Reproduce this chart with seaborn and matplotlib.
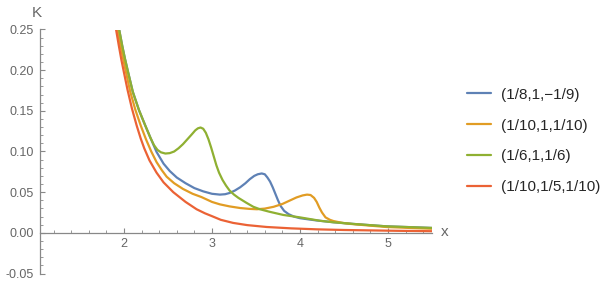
import numpy as np
import pandas as pd
import seaborn as sns
import matplotlib.pyplot as plt
from matplotlib.ticker import MultipleLocator, FormatStrFormatter

# curve values
labels = ["(1/8,1,\u22121/9)", "(1/10,1,1/10)", "(1/6,1,1/6)", "(1/10,1/5,1/10)"]
colors = ["#5E81B5", "#E19C24", "#8FB032", "#EB6235"]

blue_x = [1.945, 1.98, 2.01, 2.05, 2.10, 2.17, 2.24, 2.30, 2.37, 2.45, 2.52, 2.60,
          2.70, 2.80, 2.90, 3.00, 3.09, 3.15, 3.20, 3.26, 3.32, 3.38, 3.43, 3.48,
          3.52, 3.565, 3.60, 3.63, 3.66, 3.69, 3.72, 3.75, 3.78, 3.82, 3.87, 3.93,
          4.00, 4.10, 4.19, 4.38, 4.60, 4.98, 5.25, 5.50]
blue_y = [0.250, 0.230, 0.2145, 0.196, 0.1734, 0.151, 0.1324, 0.117, 0.0995, 0.085, 0.076, 0.068,
          0.061, 0.055, 0.051, 0.048, 0.047, 0.0475, 0.049, 0.052, 0.056, 0.061, 0.066, 0.070,
          0.072, 0.073, 0.072, 0.068, 0.063, 0.056, 0.048, 0.040, 0.033, 0.027, 0.023, 0.020,
          0.018, 0.0165, 0.0152, 0.013, 0.011, 0.008, 0.007, 0.006]

orange_x = [1.925, 1.96, 2.00, 2.04, 2.07, 2.13, 2.19, 2.25, 2.31, 2.37, 2.43, 2.485,
            2.57, 2.67, 2.78, 2.88, 3.00, 3.09, 3.20, 3.32, 3.42, 3.51, 3.60, 3.70,
            3.80, 3.89, 3.96, 4.03, 4.08, 4.12, 4.16, 4.19, 4.22, 4.25, 4.29, 4.34,
            4.38, 4.47, 4.57, 4.78, 4.98, 5.25, 5.50]
orange_y = [0.250, 0.230, 0.209, 0.189, 0.174, 0.151, 0.132, 0.115, 0.100, 0.087, 0.077, 0.069,
            0.061, 0.054, 0.048, 0.044, 0.038, 0.035, 0.0325, 0.0305, 0.0295, 0.029, 0.0298, 0.032,
            0.0355, 0.040, 0.0435, 0.046, 0.047, 0.0465, 0.043, 0.038, 0.031, 0.025, 0.019, 0.016,
            0.0145, 0.0125, 0.011, 0.009, 0.0072, 0.006, 0.005]

green_x = [1.945, 1.98, 2.01, 2.05, 2.10, 2.17, 2.24, 2.30, 2.34, 2.38, 2.42, 2.47,
           2.52, 2.57, 2.62, 2.67, 2.72, 2.77, 2.81, 2.84, 2.87, 2.90, 2.93, 2.96,
           2.99, 3.02, 3.05, 3.08, 3.12, 3.16, 3.20, 3.25, 3.30, 3.39, 3.47, 3.545,
           3.65, 3.81, 4.00, 4.23, 4.38, 4.60, 4.98, 5.25, 5.50]
green_y = [0.250, 0.230, 0.2145, 0.196, 0.1734, 0.151, 0.1324, 0.117, 0.108, 0.102, 0.099, 0.0975,
           0.098, 0.100, 0.104, 0.109, 0.115, 0.121, 0.126, 0.1285, 0.1295, 0.128, 0.123, 0.115,
           0.105, 0.094, 0.083, 0.074, 0.065, 0.058, 0.052, 0.047, 0.043, 0.037, 0.032, 0.029,
           0.026, 0.022, 0.019, 0.0148, 0.013, 0.011, 0.008, 0.007, 0.006]

red_x = [1.91, 1.94, 1.97, 2.00, 2.04, 2.09, 2.144, 2.19, 2.23, 2.29, 2.37, 2.45,
         2.56, 2.70, 2.825, 2.92, 3.00, 3.10, 3.24, 3.40, 3.62, 3.90, 4.19, 4.50,
         4.80, 5.10, 5.50]
red_y = [0.250, 0.231, 0.213, 0.197, 0.176, 0.153, 0.132, 0.116, 0.104, 0.089, 0.074, 0.062,
         0.050, 0.038, 0.029, 0.024, 0.0205, 0.016, 0.0122, 0.0095, 0.0072, 0.0055, 0.0043, 0.0035,
         0.003, 0.0025, 0.002]

frames = []
for lab, xs, ys in zip(labels, [blue_x, orange_x, green_x, red_x],
                       [blue_y, orange_y, green_y, red_y]):
    frames.append(pd.DataFrame({"x": xs, "K": ys, "curve": lab}))
df = pd.concat(frames, ignore_index=True)

sns.set_style("white")
plt.rcParams['font.family'] = ['Liberation Sans', 'DejaVu Sans']

fig = plt.figure(figsize=(6.11, 2.83), dpi=100)
ax = fig.add_axes([39.5 / 611, 1 - 273.5 / 283, (432 - 39.5) / 611, (273.5 - 29.5) / 283])

sns.lineplot(data=df, x="x", y="K", hue="curve", palette=colors, hue_order=labels,
             linewidth=1.6, ax=ax, legend=False)

ax.set_xlim(1.04, 5.5)
ax.set_ylim(-0.05, 0.25)

axis_col = "#888888"
for s in ["top", "right"]:
    ax.spines[s].set_visible(False)
ax.spines["bottom"].set_position(("data", 0))
for s in ["left", "bottom"]:
    ax.spines[s].set_color(axis_col)
    ax.spines[s].set_linewidth(0.9)

ax.xaxis.set_major_locator(MultipleLocator(1))
ax.xaxis.set_minor_locator(MultipleLocator(0.2))
ax.yaxis.set_major_locator(MultipleLocator(0.05))
ax.yaxis.set_minor_locator(MultipleLocator(0.01))
ax.yaxis.set_major_formatter(FormatStrFormatter("%.2f"))
ax.set_xticks([2, 3, 4, 5])

ax.tick_params(which="major", direction="in", length=3.5, width=0.8, color=axis_col,
               labelsize=9, labelcolor="#666666", pad=4)
ax.tick_params(which="minor", direction="in", length=2, width=0.6, color=axis_col)
ax.tick_params(axis="x", which="both", bottom=True)
ax.tick_params(axis="y", which="both", left=True)

ax.set_xlabel("")
ax.set_ylabel("")
fig.text(37 / 611, 1 - 13 / 283, "K", fontsize=11, color="#666666", ha="center", va="center")
fig.text(445 / 611, 1 - 232 / 283, "x", fontsize=11, color="#666666", ha="center", va="center")

handles = [plt.Line2D([], [], color=c, linewidth=1.6) for c in colors]
fig.legend(handles, labels, loc="center left", bbox_to_anchor=(467 / 611, 1 - 141 / 283),
           frameon=False, fontsize=11, handlelength=1.6, handletextpad=0.6,
           labelspacing=1.1, borderpad=0, borderaxespad=0)

fig.savefig("out.png", dpi=100)
